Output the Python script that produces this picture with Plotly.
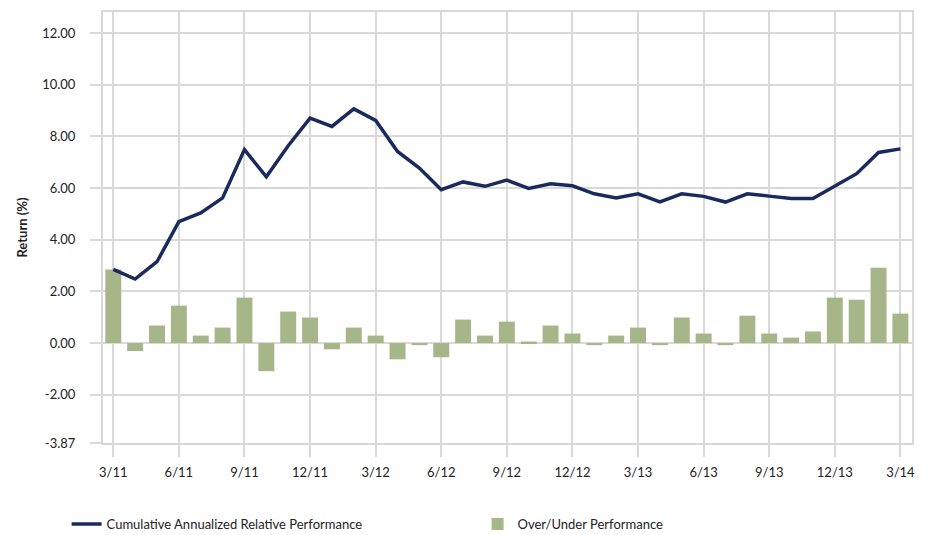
import plotly.graph_objects as go

# Month labels from 3/11 through 3/14 (monthly)
months = ["3/11", "4/11", "5/11", "6/11", "7/11", "8/11", "9/11", "10/11", "11/11",
          "12/11", "1/12", "2/12", "3/12", "4/12", "5/12", "6/12", "7/12", "8/12",
          "9/12", "10/12", "11/12", "12/12", "1/13", "2/13", "3/13", "4/13", "5/13",
          "6/13", "7/13", "8/13", "9/13", "10/13", "11/13", "12/13", "1/14", "2/14",
          "3/14"]

cumulative_relative = [2.85, 2.48, 3.15, 4.70, 5.04, 5.62, 7.49, 6.44, 7.64,
                       8.71, 8.39, 9.07, 8.62, 7.42, 6.78, 5.94, 6.24, 6.07,
                       6.31, 5.99, 6.17, 6.09, 5.78, 5.62, 5.78, 5.47, 5.78,
                       5.68, 5.46, 5.78, 5.69, 5.60, 5.60, 6.07, 6.56, 7.38,
                       7.52]

over_under = [2.85, -0.31, 0.68, 1.45, 0.29, 0.60, 1.76, -1.09, 1.22,
              0.99, -0.24, 0.60, 0.29, -0.63, -0.08, -0.55, 0.91, 0.29,
              0.83, 0.06, 0.68, 0.37, -0.08, 0.29, 0.60, -0.08, 0.99,
              0.37, -0.08, 1.06, 0.37, 0.21, 0.45, 1.76, 1.68, 2.92,
              1.14]

y_ticks = [-3.87, -2, 0, 2, 4, 6, 8, 10, 12]
y_top = 12.82

x = list(range(len(months)))
quarter_idx = x[::3]
quarter_labels = [months[i] for i in quarter_idx]

GRID = "#d9d9d9"
FONT = "Lato, 'Open Sans', sans-serif"

fig = go.Figure()
# bars first so the line is drawn above them
fig.add_trace(go.Bar(
    x=x, y=over_under, name="Over/Under Performance",
    marker=dict(color="#a7b688", line=dict(width=0)),
    width=0.73,
))
fig.add_trace(go.Scatter(
    x=x, y=cumulative_relative, mode="lines",
    name="Cumulative Annualized Relative Performance",
    line=dict(color="#1b2a5c", width=3.5),
))

fig.update_layout(
    width=930, height=535,
    margin=dict(l=103, r=18, t=12, b=92, autoexpand=False),
    paper_bgcolor="white", plot_bgcolor="white",
    font=dict(family=FONT, size=13, color="#222"),
    showlegend=True,
    legend=dict(
        orientation="h", x=-0.045, xanchor="left",
        y=-0.188, yanchor="middle",
        entrywidth=366, entrywidthmode="pixels",
        traceorder="reversed",
        font=dict(size=13, color="#222"),
    ),
)

fig.update_xaxes(
    range=[-0.47, 36.53],
    tickmode="array", tickvals=quarter_idx, ticktext=quarter_labels,
    showgrid=True, gridcolor=GRID, gridwidth=2,
    showline=True, linecolor=GRID, linewidth=2, mirror=True,
    ticks="outside", ticklen=12, tickwidth=2, tickcolor=GRID,
    ticklabelstandoff=4,
    zeroline=False,
    tickfont=dict(size=13, color="#222"),
)
fig.update_yaxes(
    range=[-3.87, y_top],
    tickmode="array", tickvals=y_ticks,
    ticktext=[f"{v:.2f}" for v in y_ticks],
    showgrid=True, gridcolor=GRID, gridwidth=2,
    showline=True, linecolor=GRID, linewidth=2, mirror=True,
    ticks="outside", ticklen=11, tickwidth=2, tickcolor=GRID,
    ticklabelstandoff=12,
    zeroline=True, zerolinecolor=GRID, zerolinewidth=2,
    title=dict(text="<b>Return (%)</b>", font=dict(size=13, color="#222"), standoff=12),
    tickfont=dict(size=13, color="#222"),
)

fig.write_html("out.html")
